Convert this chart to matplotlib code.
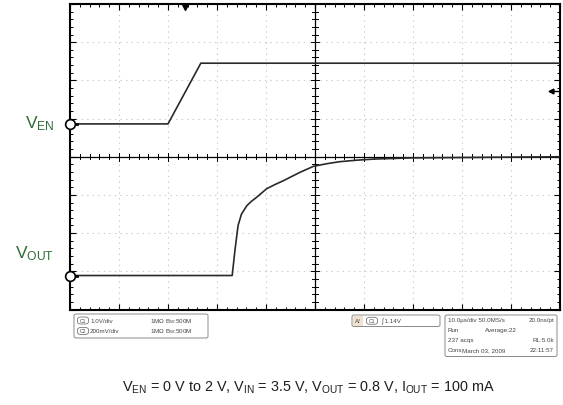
import numpy as np
import matplotlib
matplotlib.use("Agg")
import matplotlib.pyplot as plt
from matplotlib.patches import FancyBboxPatch

plt.rcParams['font.family'] = ['Liberation Sans', 'DejaVu Sans']
plt.rcParams['mathtext.fontset'] = 'custom'
plt.rcParams['mathtext.rm'] = 'Liberation Sans'
plt.rcParams['mathtext.it'] = 'Liberation Sans'
plt.rcParams['mathtext.default'] = 'regular'

# ---- data (in scope divisions) ----
en_t = [-5.0, -3.0, -2.33, 5.0]
en_v = [0.86, 0.86, 2.45, 2.45]
out_t = [-5.0, -1.69, -1.63, -1.57, -1.50, -1.44, -1.39, -1.30, -1.19, -1.08, -0.99,
         -0.82, -0.65, -0.48, -0.31, -0.17, -0.03, 0.25, 0.50, 0.85, 1.22, 1.95, 5.0]
out_v = [-3.11, -3.11, -2.41, -1.80, -1.50, -1.38, -1.28, -1.17, -1.06, -0.94, -0.84,
         -0.73, -0.63, -0.52, -0.41, -0.33, -0.25, -0.18, -0.13, -0.09, -0.06, -0.03, 0.0]
trig_t = -2.65
trig_level = 1.73
ch_labels = [r'$V_{EN}$', r'$V_{OUT}$']
ch_ground = [0.86, -3.11]

left_box_rows = [("C1", "1.0V/div", "1M\u03a9 B$_W$:500M"),
                 ("C2", "200mV/div", "1M\u03a9 B$_W$:500M")]
trig_text = "1.14V"
info_rows = [("10.0\u00b5s/div 50.0MS/s", "", "20.0ns/pt"),
             ("Run", "Average:22", ""),
             ("237 acqs", "", "RL:5.0k"),
             ("Cons", "March 03, 2009", "22:11:57")]
caption = (r'$V_{EN}$ = 0 V to 2 V, $V_{IN}$ = 3.5 V, '
           r'$V_{OUT}$ = 0.8 V, $I_{OUT}$ = 100 mA')

W, H = 563, 406
fig = plt.figure(figsize=(W / 100, H / 100), dpi=100)


def fx(x):
    return x / W


def fy(y):
    return 1 - y / H


ax_l, ax_r, ax_t, ax_b = 70, 560, 5, 310.5
ax = fig.add_axes([fx(ax_l), fy(ax_b), (ax_r - ax_l) / W, (ax_b - ax_t) / H])
ax.set_xlim(-5, 5)
ax.set_ylim(-4, 4)

# grid
for g in range(-4, 5):
    if g != 0:
        ax.axvline(g, color='#c8c8c8', lw=0.8, ls=(0, (1.2, 3.8)), zorder=1)
for g in range(-3, 4):
    if g != 0:
        ax.axhline(g, color='#c8c8c8', lw=0.8, ls=(0, (1.2, 3.8)), zorder=1)

# center crosshair with ticks
ax.axhline(0, color='black', lw=0.9, zorder=2)
ax.axvline(0, color='black', lw=0.9, zorder=2)
for t in np.arange(-5, 5.01, 0.2):
    h = 0.1 if abs(t - round(t)) < 1e-6 else 0.07
    ax.plot([t, t], [-h, h], color='black', lw=0.7, zorder=2)
for t in np.arange(-4, 4.01, 0.2):
    h = 0.1 if abs(t - round(t)) < 1e-6 else 0.07
    ax.plot([-h * 0.8, h * 0.8], [t, t], color='black', lw=0.7, zorder=2)

# frame ticks
ax.set_xticks(np.arange(-5, 6, 1))
ax.set_yticks(np.arange(-4, 5, 1))
ax.set_xticks(np.arange(-5, 5.01, 0.2), minor=True)
ax.set_yticks(np.arange(-4, 4.01, 0.2), minor=True)
ax.tick_params(which='both', direction='in', top=True, right=True,
               labelbottom=False, labelleft=False, color='black')
ax.tick_params(which='major', length=4, width=0.8)
ax.tick_params(which='minor', length=2.5, width=0.7)
for s in ax.spines.values():
    s.set_linewidth(1.5)
    s.set_color('black')

# traces
ax.plot(en_t, en_v, color='#2a2a2a', lw=1.2, zorder=3)
ax.plot(out_t, out_v, color='#2a2a2a', lw=1.2, zorder=3)

# ground markers
for g in ch_ground:
    ax.plot([-5, -4.85], [g, g], color='black', lw=2.0, zorder=4, clip_on=False)
    ax.plot([-5], [g], marker='o', ms=7, mfc='white', mec='black', mew=1.2,
            zorder=5, clip_on=False)

# trigger markers
ax.plot([trig_t], [3.93], marker='v', ms=4.5, color='black', zorder=5, clip_on=False)
ax.plot([4.82, 4.95], [trig_level, trig_level], color='black', lw=1.0, zorder=5)
ax.plot([4.82], [trig_level], marker='<', ms=3.5, color='black', zorder=5)

# channel labels
fig.text(fx(55), fy(123.5), ch_labels[0], ha='right', va='center',
         fontsize=12.5, color='#2f6e33')
fig.text(fx(54), fy(253.5), ch_labels[1], ha='right', va='center',
         fontsize=12.5, color='#2f6e33')

# info boxes
def box(x0, y0, x1, y1):
    p = FancyBboxPatch((fx(x0), fy(y1)), fx(x1) - fx(x0), fy(y0) - fy(y1),
                       boxstyle='round,pad=0,rounding_size=0.004',
                       transform=fig.transFigure, fc='white', ec='#8a8a8a', lw=0.7)
    fig.patches.append(p)


def oval(xc, yc, label):
    p = FancyBboxPatch((fx(xc - 5.5), fy(yc + 3.5)), 11 / W, 7 / H,
                       boxstyle='round,pad=0,rounding_size=0.006',
                       transform=fig.transFigure, fc='white', ec='#777777', lw=0.6)
    fig.patches.append(p)
    fig.text(fx(xc), fy(yc), label, ha='center', va='center', fontsize=3.6, color='#444444')


FS = 4.5
box(74, 315, 208, 339)
for (ch, vdiv, imp), yy in zip(left_box_rows, [321.5, 332]):
    oval(83, yy, ch)
    fig.text(fx(90), fy(yy), vdiv, ha='left', va='center', fontsize=FS, color='#444444')
    fig.text(fx(150), fy(yy), imp, ha='left', va='center', fontsize=FS, color='#444444')

box(352, 316, 440, 327.5)
fig.patches.append(FancyBboxPatch((fx(353), fy(326.5)), 10 / W, 9.5 / H,
                                  boxstyle='square,pad=0', transform=fig.transFigure,
                                  fc='#efe3cf', ec='none'))
fig.text(fx(355), fy(321.8), "A/", ha='left', va='center', fontsize=FS, color='#444444')
oval(372, 321.8, "C1")
fig.text(fx(381), fy(321.8), "\u222b " + trig_text, ha='left', va='center',
         fontsize=FS, color='#444444')

box(445, 316, 557, 357.5)
for (a, b, c), yy in zip(info_rows, [320.7, 330.5, 340.5, 350.5]):
    fig.text(fx(448), fy(yy), a, ha='left', va='center', fontsize=FS, color='#444444')
    if b:
        bx = 485 if a == "Run" else 462
        fig.text(fx(bx), fy(yy), b, ha='left', va='center', fontsize=FS, color='#444444')
    if c:
        fig.text(fx(554), fy(yy), c, ha='right', va='center', fontsize=FS, color='#444444')

# caption
fig.text(fx(308.5), fy(388), caption, ha='center', va='center', fontsize=10.4, color='#1e1e1e')

fig.savefig('out.png', dpi=100)
